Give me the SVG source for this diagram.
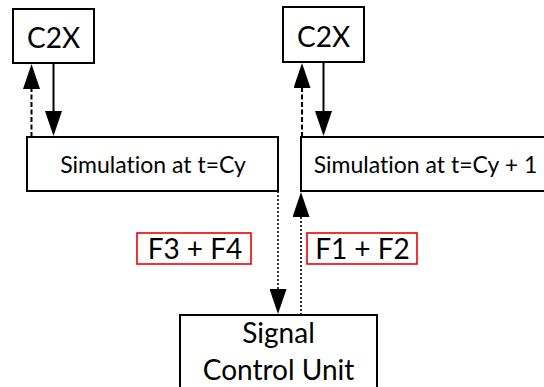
<svg xmlns="http://www.w3.org/2000/svg" width="544" height="387" viewBox="0 0 544 387">
<style>
.box{fill:#fff;stroke:#000;stroke-width:2}
.lbl{fill:#fff;stroke:#e00;stroke-width:1.6}
text{font-family:Lato,"Open Sans","Liberation Sans",sans-serif;fill:#000;text-anchor:middle;font-variant-ligatures:none}
.sim{font-size:23px}
.big{font-size:28px}
.solid{stroke:#000;stroke-width:2;fill:none}
.dash{stroke:#000;stroke-width:2;fill:none;stroke-dasharray:5 2.5}
.dot{stroke:#000;stroke-width:1.6;fill:none;stroke-dasharray:2 2}
</style>
<defs>
<marker id="ah" markerUnits="userSpaceOnUse" viewBox="0 -8.5 25 17" refX="0" refY="0" markerWidth="25" markerHeight="17" orient="auto">
<path d="M0,-8.5 L25,0 L0,8.5 Z" fill="#000"/>
</marker>
</defs>
<g id="c2x-left"><rect class="box" x="13" y="9" width="81" height="54"/><text class="big" x="53.5" y="48">C2X</text></g>
<g id="c2x-right"><rect class="box" x="283" y="7" width="81" height="55"/><text class="big" x="323.5" y="47">C2X</text></g>
<g id="sim-left"><rect class="box" x="27" y="137" width="251" height="54"/><text class="sim" x="153" y="173">Simulation at t=Cy</text></g>
<g id="sim-right"><rect class="box" x="301" y="137" width="250" height="54"/><text class="sim" x="425.5" y="173">Simulation at t=Cy + 1</text></g>
<g id="label-f34"><rect class="lbl" x="137" y="233" width="114" height="31"/><text class="big" x="195" y="259">F3 + F4</text></g>
<g id="label-f12"><rect class="lbl" x="307" y="233" width="110" height="31"/><text class="big" x="362.5" y="259">F1 + F2</text></g>
<g id="scu"><rect class="box" x="180" y="315" width="197" height="80"/><text class="big" x="278.5" y="343">Signal</text><text class="big" x="278.5" y="380">Control Unit</text></g>
<g id="connectors">
<line class="dash" x1="31.5" y1="137" x2="31.5" y2="89" marker-end="url(#ah)"/>
<line class="solid" x1="53.5" y1="63" x2="53.5" y2="111" marker-end="url(#ah)"/>
<line class="dash" x1="302" y1="137" x2="302" y2="88" marker-end="url(#ah)"/>
<line class="solid" x1="323.5" y1="62" x2="323.5" y2="111" marker-end="url(#ah)"/>
<line class="dot" x1="278" y1="191" x2="278" y2="289" marker-end="url(#ah)"/>
<line class="dot" x1="301" y1="315" x2="301" y2="217" marker-end="url(#ah)"/>
</g>
</svg>
